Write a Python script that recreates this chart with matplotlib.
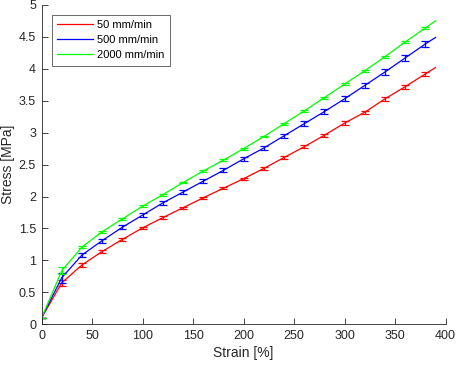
import matplotlib
matplotlib.use('Agg')
import matplotlib.pyplot as plt

# strain [%] where the error bars sit, and the line end
strain = [0, 20, 40, 60, 80, 100, 120, 140, 160, 180, 200,
          220, 240, 260, 280, 300, 320, 340, 360, 380]
strain_end = 390

labels = ['50 mm/min', '500 mm/min', '2000 mm/min']

stress_50 = [0.10, 0.65, 0.93, 1.14, 1.33, 1.51, 1.67, 1.825, 1.98, 2.13, 2.28,
             2.44, 2.61, 2.78, 2.96, 3.15, 3.32, 3.53, 3.72, 3.92]
stress_500 = [0.10, 0.73, 1.085, 1.31, 1.52, 1.71, 1.90, 2.07, 2.24, 2.41, 2.59,
              2.76, 2.95, 3.14, 3.33, 3.53, 3.74, 3.95, 4.17, 4.39]
stress_2000 = [0.10, 0.84, 1.21, 1.45, 1.65, 1.85, 2.03, 2.22, 2.40, 2.57, 2.75,
               2.94, 3.14, 3.34, 3.55, 3.76, 3.97, 4.19, 4.42, 4.64]
end_stress = [4.02, 4.49, 4.75]

err_50 = [0.005, 0.045, 0.03, 0.025, 0.02, 0.02, 0.02, 0.015, 0.015, 0.015, 0.015,
          0.02, 0.02, 0.02, 0.02, 0.025, 0.025, 0.03, 0.03, 0.035]
err_500 = [0.005, 0.08, 0.03, 0.03, 0.03, 0.03, 0.03, 0.03, 0.03, 0.03, 0.03,
           0.03, 0.035, 0.035, 0.035, 0.04, 0.04, 0.04, 0.045, 0.045]
err_2000 = [0.005, 0.05, 0.02, 0.015, 0.015, 0.015, 0.015, 0.015, 0.015, 0.015, 0.015,
            0.015, 0.015, 0.015, 0.015, 0.015, 0.015, 0.015, 0.015, 0.02]

colors = ['#ff0000', '#0000ff', '#00ff00']

plt.rcParams['font.family'] = 'Liberation Sans'
fig = plt.figure(figsize=(4.57, 3.65), dpi=100)
ax = fig.add_axes([0.091, 0.1115, 0.884, 0.875])

series = [(stress_50, err_50), (stress_500, err_500), (stress_2000, err_2000)]
for (y, e), yend, c, lab in zip(series, end_stress, colors, labels):
    ax.plot(strain + [strain_end], y + [yend], '-', color=c, lw=0.9, label=lab)
    ax.errorbar(strain, y, yerr=e, fmt='none', ecolor=c, elinewidth=0.9,
                capsize=3, capthick=0.9)

ax.set_xlim(0, 400)
ax.set_ylim(0, 5)
ax.set_xticks(range(0, 401, 50))
ax.set_yticks([0, 0.5, 1, 1.5, 2, 2.5, 3, 3.5, 4, 4.5, 5])
ax.set_yticklabels(['0', '0.5', '1', '1.5', '2', '2.5', '3', '3.5', '4', '4.5', '5'])
ax.set_xlabel('Strain [%]', fontsize=10, color='#262626', labelpad=3)
ax.set_ylabel('Stress [MPa]', fontsize=10, color='#262626',
              va='center', ha='center')
ax.yaxis.set_label_coords(-0.083, 0.5)

for s in ['top', 'right']:
    ax.spines[s].set_visible(False)
for s in ['left', 'bottom']:
    ax.spines[s].set_color('#262626')
    ax.spines[s].set_linewidth(0.6)
ax.tick_params(direction='in', length=4, width=0.6, colors='#262626',
               labelsize=9, pad=4)

leg = ax.legend(loc='upper left', bbox_to_anchor=(0.025, 0.97), fontsize=8,
                handlelength=3.2, frameon=True, fancybox=False, borderpad=0.5,
                labelspacing=0.45, handletextpad=0.4, borderaxespad=0)
leg.get_frame().set_edgecolor('#262626')
leg.get_frame().set_linewidth(0.6)

fig.savefig('out.png', dpi=100)
